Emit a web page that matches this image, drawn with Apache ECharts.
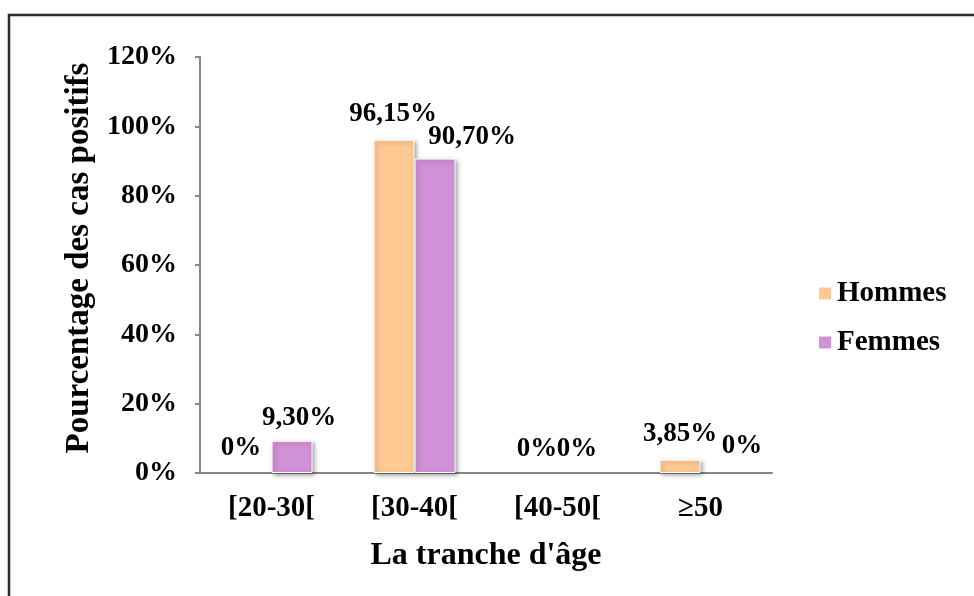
<!DOCTYPE html>
<html>
<head>
<meta charset="utf-8">
<script src="https://cdn.jsdelivr.net/npm/echarts@6/dist/echarts.min.js"></script>
<style>
  html, body { margin: 0; padding: 0; background: #fff; }
  #chart { width: 974px; height: 596px; }
</style>
</head>
<body>
<div id="chart"></div>
<script>
// Age groups and percentage of positive cases by sex
const categories = ['[20-30[', '[30-40[', '[40-50[', '≥50'];
const hommes = [0, 96.15, 0, 3.85];
const femmes = [9.30, 90.70, 0, 0];
const yTicks = { min: 0, max: 120, interval: 20 };

// Hand-placed label nudges (px), one per bar
const hommesLabelOffsets = [[-10, -6], [-1, -7], [0, -5], [0, -7]];
const femmesLabelOffsets = [[7, -4], [37, -3], [-1, -5], [21, -8]];

const FONT = '"Liberation Serif", "Times New Roman", serif';

function fmt(v) {
  return v === 0 ? '0%' : v.toFixed(2).replace('.', ',') + '%';
}

function buildData(values, offsets) {
  return values.map((v, i) => {
    const item = { value: v, label: { offset: offsets[i] } };
    // an empty bar leaves no shadow or outline on the baseline
    if (v === 0) {
      item.itemStyle = {
        color: 'transparent', borderColor: 'transparent',
        shadowColor: 'transparent', shadowBlur: 0, borderWidth: 0
      };
    }
    return item;
  });
}

const labelStyle = {
  show: true,
  position: 'top',
  distance: 5,
  fontFamily: FONT,
  fontWeight: 'bold',
  fontSize: 27,
  color: '#000',
  formatter: p => fmt(p.value)
};

const chart = echarts.init(document.getElementById('chart'), null, { renderer: 'canvas' });

chart.setOption({
  animation: false,
  backgroundColor: '#fff',
  textStyle: { fontFamily: FONT },
  graphic: [{
    type: 'rect',
    shape: { x: 9, y: 15, width: 1000, height: 620 },
    style: { fill: 'none', stroke: '#2b2b2b', lineWidth: 2.5 },
    silent: true
  }],
  grid: { left: 200, top: 57, right: 202, bottom: 123 },
  legend: {
    orient: 'vertical',
    left: 812,
    top: 274,
    itemWidth: 14,
    itemHeight: 14,
    itemGap: 20,
    icon: 'rect',
    textStyle: { fontFamily: FONT, fontWeight: 'bold', fontSize: 29, color: '#000' },
    data: ['Hommes', 'Femmes']
  },
  xAxis: {
    type: 'category',
    data: categories,
    name: "La tranche d'âge",
    nameLocation: 'middle',
    nameGap: 67,
    nameTextStyle: { fontFamily: FONT, fontWeight: 'bold', fontSize: 32, color: '#000' },
    axisLine: { lineStyle: { color: '#868686', width: 2 } },
    axisTick: { show: false },
    axisLabel: { margin: 21, fontFamily: FONT, fontWeight: 'bold', fontSize: 29, color: '#000' }
  },
  yAxis: {
    type: 'value',
    min: yTicks.min,
    max: yTicks.max,
    interval: yTicks.interval,
    name: 'Pourcentage des cas positifs',
    nameLocation: 'middle',
    nameGap: 87,
    nameTextStyle: { fontFamily: FONT, fontWeight: 'bold', fontSize: 33, color: '#000', padding: [0, 0, 0, 14] },
    axisLine: { show: true, lineStyle: { color: '#868686', width: 2 } },
    axisTick: { show: true, length: 5, lineStyle: { color: '#868686', width: 2 } },
    splitLine: { show: false },
    axisLabel: {
      margin: 23,
      fontFamily: FONT, fontWeight: 'bold', fontSize: 28, color: '#000',
      formatter: '{value}%'
    }
  },
  series: [
    {
      name: 'Hommes',
      type: 'bar',
      barWidth: 41,
      barGap: '0%',
      data: buildData(hommes, hommesLabelOffsets),
      itemStyle: {
        color: '#FFC994',
        borderColor: '#fff',
        borderWidth: 1,
        shadowColor: 'rgba(0,0,0,0.35)',
        shadowBlur: 4,
        shadowOffsetX: 2,
        shadowOffsetY: 2
      },
      label: labelStyle
    },
    {
      name: 'Femmes',
      type: 'bar',
      barWidth: 41,
      barGap: '0%',
      data: buildData(femmes, femmesLabelOffsets),
      itemStyle: {
        color: '#D291D6',
        borderColor: '#fff',
        borderWidth: 1,
        shadowColor: 'rgba(0,0,0,0.35)',
        shadowBlur: 4,
        shadowOffsetX: 2,
        shadowOffsetY: 2
      },
      label: labelStyle
    }
  ]
});
</script>
</body>
</html>
